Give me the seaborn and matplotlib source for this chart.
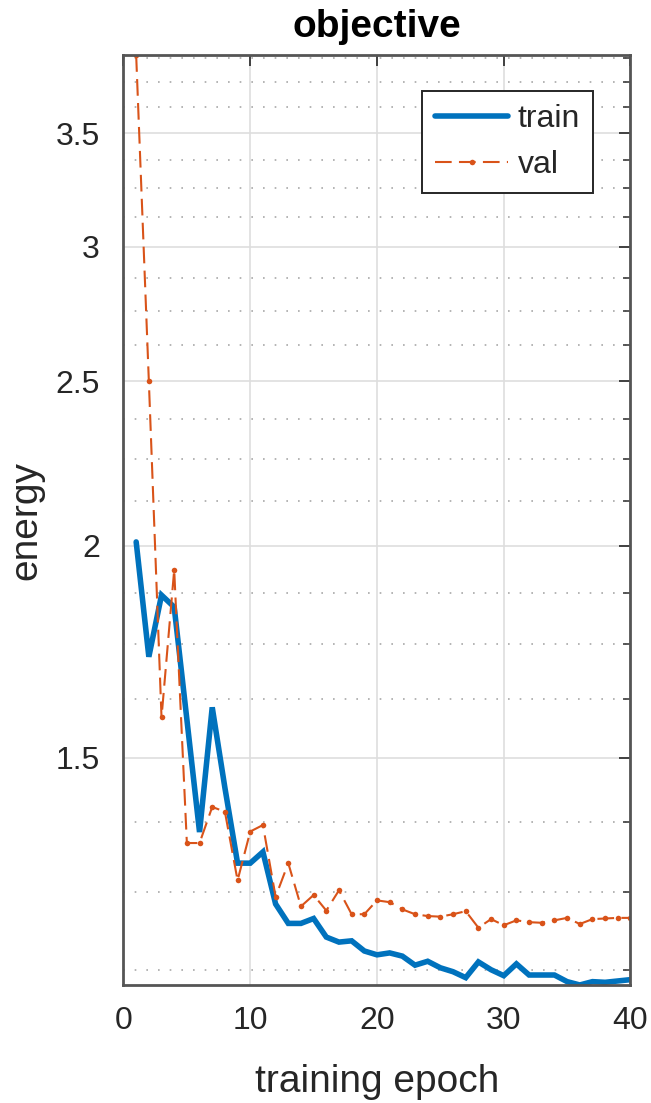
import numpy as np
import pandas as pd
import seaborn as sns
import matplotlib
matplotlib.use("Agg")
import matplotlib.pyplot as plt
from matplotlib.ticker import FixedLocator, NullFormatter, FixedFormatter

# Training history: objective per epoch
epochs = list(range(1, 41))
train_energy = [2.01, 1.72, 1.87, 1.84, 1.58, 1.356, 1.606, 1.44, 1.30, 1.30,
                1.32, 1.23, 1.198, 1.198, 1.206, 1.176, 1.168, 1.170, 1.154, 1.148,
                1.151, 1.146, 1.132, 1.138, 1.128, 1.122, 1.113, 1.137, 1.125, 1.116,
                1.134, 1.117, 1.117, 1.117, 1.107, 1.102, 1.107, 1.106, 1.108, 1.110]
val_energy = [3.89, 2.50, 1.584, 1.935, 1.336, 1.336, 1.403, 1.394, 1.27, 1.357,
              1.369, 1.242, 1.30, 1.226, 1.245, 1.219, 1.253, 1.213, 1.213, 1.236,
              1.233, 1.221, 1.213, 1.210, 1.209, 1.213, 1.218, 1.191, 1.205, 1.195,
              1.203, 1.200, 1.199, 1.203, 1.207, 1.197, 1.205, 1.206, 1.207, 1.207]

y_major = [1.5, 2, 2.5, 3, 3.5]
x_major = [0, 10, 20, 30, 40]

sns.set_style("white")
plt.rcParams["font.family"] = ["Liberation Sans", "DejaVu Sans"]
TXT = "#262626"

fig = plt.figure(figsize=(6.51, 11.03), dpi=100)
ax = fig.add_axes([0.1897, 0.107, 0.7788, 0.843])

blue = "#0072BD"
orange = "#D95319"

sns.lineplot(x=epochs, y=train_energy, ax=ax, color=blue, linewidth=4.0,
             label="train", solid_joinstyle="miter")
sns.lineplot(x=epochs, y=val_energy, ax=ax, color=orange, linewidth=1.5,
             dashes=False, linestyle=(0, (8, 3.5)), marker="o", markersize=4.0,
             markeredgewidth=0, label="val")

ax.set_yscale("log")
ax.set_xlim(0, 40)
ax.set_ylim(min(train_energy), max(val_energy))

ax.yaxis.set_major_locator(FixedLocator(y_major))
ax.yaxis.set_major_formatter(FixedFormatter([f"{v:g}" for v in y_major]))
minor = [v for v in np.arange(1.125, 3.9, 0.125) if not any(abs(v - m) < 1e-6 for m in y_major)]
ax.yaxis.set_minor_locator(FixedLocator(minor))
ax.yaxis.set_minor_formatter(NullFormatter())
ax.xaxis.set_major_locator(FixedLocator(x_major))

ax.grid(which="major", axis="both", color="#dedede", linewidth=1.2, linestyle="-")
ax.grid(which="minor", axis="y", color="#a8a8a8", linewidth=1.2, linestyle=(0, (1, 6)))
ax.set_axisbelow(True)

ax.tick_params(which="both", direction="in", top=True, right=True,
               colors="#404040", labelcolor=TXT, labelsize=23)
ax.tick_params(which="major", length=8, width=1.4)
ax.tick_params(axis="y", which="major", pad=17)
ax.tick_params(axis="x", which="major", pad=15)
ax.tick_params(which="minor", length=5, width=1.2)
for s in ax.spines.values():
    s.set_color("#555555")
    s.set_linewidth(2.0)

ax.set_xlabel("training epoch", fontsize=28, color=TXT, labelpad=20)
ax.set_ylabel("energy", fontsize=28, color=TXT, labelpad=8)
ax.set_title("objective", fontsize=28, fontweight="bold", color="black", pad=13)

leg = ax.legend(loc="upper right", bbox_to_anchor=(0.926, 0.961), fontsize=23,
                frameon=True, fancybox=False, edgecolor="#262626", framealpha=1,
                handlelength=2.3, handletextpad=0.3, borderpad=0.4, labelspacing=0.5,
                borderaxespad=0)
leg.get_frame().set_linewidth(1.4)
for t in leg.get_texts():
    t.set_color(TXT)

fig.savefig("out.png", dpi=100)
